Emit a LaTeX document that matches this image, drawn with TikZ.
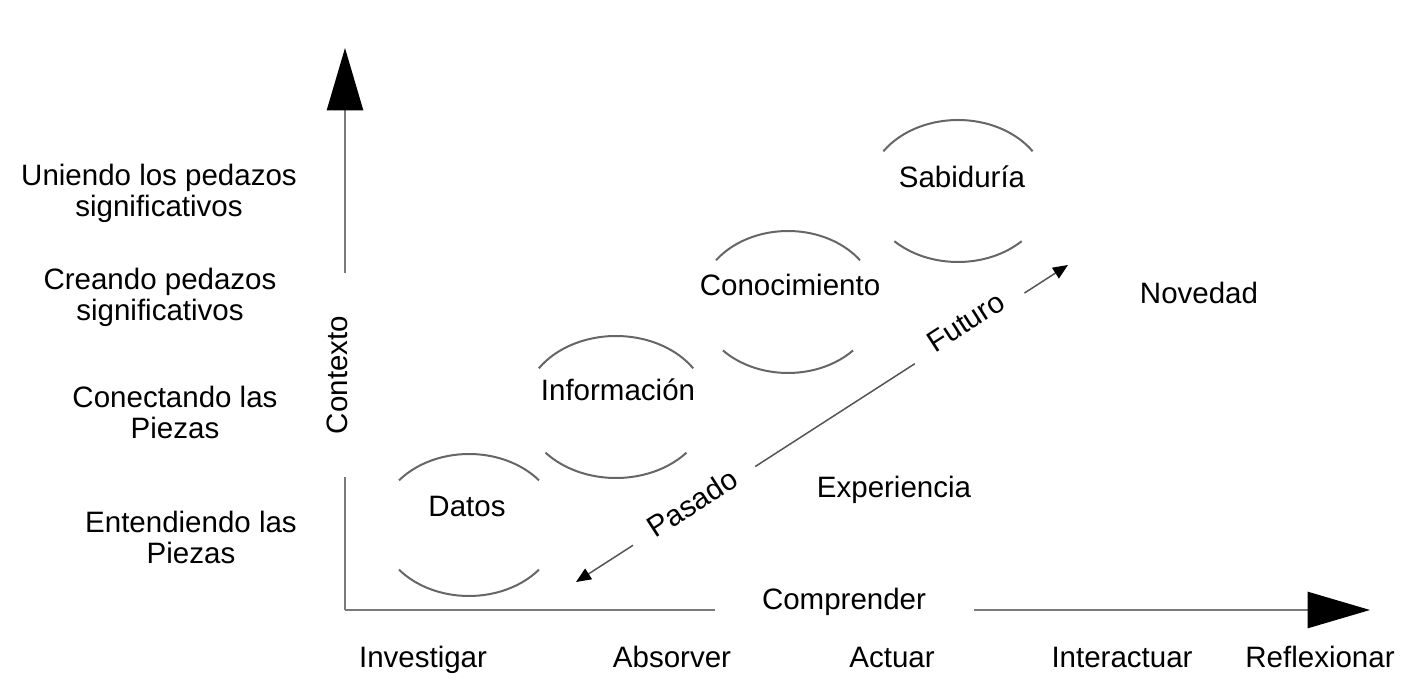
\documentclass[tikz,border=0pt]{standalone}
\usepackage{fontspec}
\setmainfont{Liberation Sans}
\usepackage{tikz}
\usetikzlibrary{arrows.meta}
\definecolor{axisgray}{HTML}{7A7A7A}
\definecolor{arcgray}{HTML}{666666}
\definecolor{diaggray}{HTML}{555555}
\tikzset{
  lbl/.style={inner sep=1pt, align=center},
  baselbl/.style={inner sep=1pt, anchor=base},
  gaplbl/.style={fill=white, inner ysep=3pt},
  axis/.style={draw=axisgray, line width=0.8pt, -{Triangle[length=25pt, width=14.5pt, black]}},
  lensline/.style={draw=arcgray, line width=0.8pt},
  timeline/.style={draw=diaggray, line width=0.6pt,
                   {Triangle[length=6pt, width=5pt, black]}-{Triangle[length=6pt, width=5pt, black]}},
}

\begin{document}
\begin{tikzpicture}[x=0.4pt, y=-0.4pt, font=\fontsize{11.8}{12.4}\selectfont]
  \useasboundingbox (0,0) rectangle (1411,690);

  % axes
  \coordinate (origin) at (345,610);
  \coordinate (ytop) at (345,48);
  \coordinate (xend) at (1370,610);
  \draw[axis] (origin) -- (ytop);
  \draw[axis] (origin) -- (xend);
  \node[gaplbl, rotate=90, inner xsep=17pt] (contexto) at (337,375) {Contexto};
  \node[gaplbl, inner xsep=19pt] (comprender) at (844,602) {Comprender};

  % left labels
  \node[lbl] (uniendo) at (159,193) {Uniendo los pedazos\\significativos};
  \node[lbl] (creando) at (160,297) {Creando pedazos\\significativos};
  \node[lbl] (conectando) at (175,412) {Conectando las\\Piezas};
  \node[lbl] (entendiendo) at (191,537) {Entendiendo las\\Piezas};

  % bottom labels
  \node[baselbl] (investigar) at (423,667) {Investigar};
  \node[baselbl] (absorver) at (672,667) {Absorver};
  \node[baselbl] (actuar) at (892,667) {Actuar};
  \node[baselbl] (interactuar) at (1122,667) {Interactuar};
  \node[baselbl] (reflexionar) at (1320,667) {Reflexionar};

  % concepts
  \coordinate (datosC) at (469,525);
  \coordinate (infoC) at (616,407);
  \coordinate (conoC) at (788,302);
  \coordinate (sabiC) at (958,191);
  \node[lbl] (datos) at (467,506) {Datos};
  \node[lbl] (info) at (618,390) {Información};
  \node[lbl] (cono) at (790,285) {Conocimiento};
  \node[lbl] (sabi) at (962,177) {Sabiduría};

  \draw[lensline] ([shift={(219:90 and 71)}]datosC) arc[start angle=219, end angle=321, x radius=90, y radius=71];
  \draw[lensline] ([shift={(39:90 and 71)}]datosC) arc[start angle=39, end angle=141, x radius=90, y radius=71];
  \draw[lensline] ([shift={(213:92 and 71)}]infoC) arc[start angle=213, end angle=327, x radius=92, y radius=71];
  \draw[lensline] ([shift={(40:92 and 71)}]infoC) arc[start angle=40, end angle=140, x radius=92, y radius=71];
  \draw[lensline] ([shift={(216:89 and 71)}]conoC) arc[start angle=216, end angle=324, x radius=89, y radius=71];
  \draw[lensline] ([shift={(43:89 and 71)}]conoC) arc[start angle=43, end angle=137, x radius=89, y radius=71];
  \draw[lensline] ([shift={(214:90 and 71)}]sabiC) arc[start angle=214, end angle=326, x radius=90, y radius=71];
  \draw[lensline] ([shift={(45:90 and 71)}]sabiC) arc[start angle=45, end angle=135, x radius=90, y radius=71];

  % time line
  \coordinate (pasadoEnd) at (576,582);
  \coordinate (futuroEnd) at (1068,265);
  \draw[timeline] (pasadoEnd) -- (futuroEnd)
    node[pos=0.24, sloped, fill=white, inner xsep=9pt, inner ysep=2pt, yshift=1.5pt] (pasado) {Pasado}
    node[pos=0.80, sloped, fill=white, inner xsep=9pt, inner ysep=2pt, yshift=3pt] (futuro) {Futuro};

  \node[lbl] (experiencia) at (894,490) {Experiencia};
  \node[lbl] (novedad) at (1199,293) {Novedad};
\end{tikzpicture}
\end{document}
